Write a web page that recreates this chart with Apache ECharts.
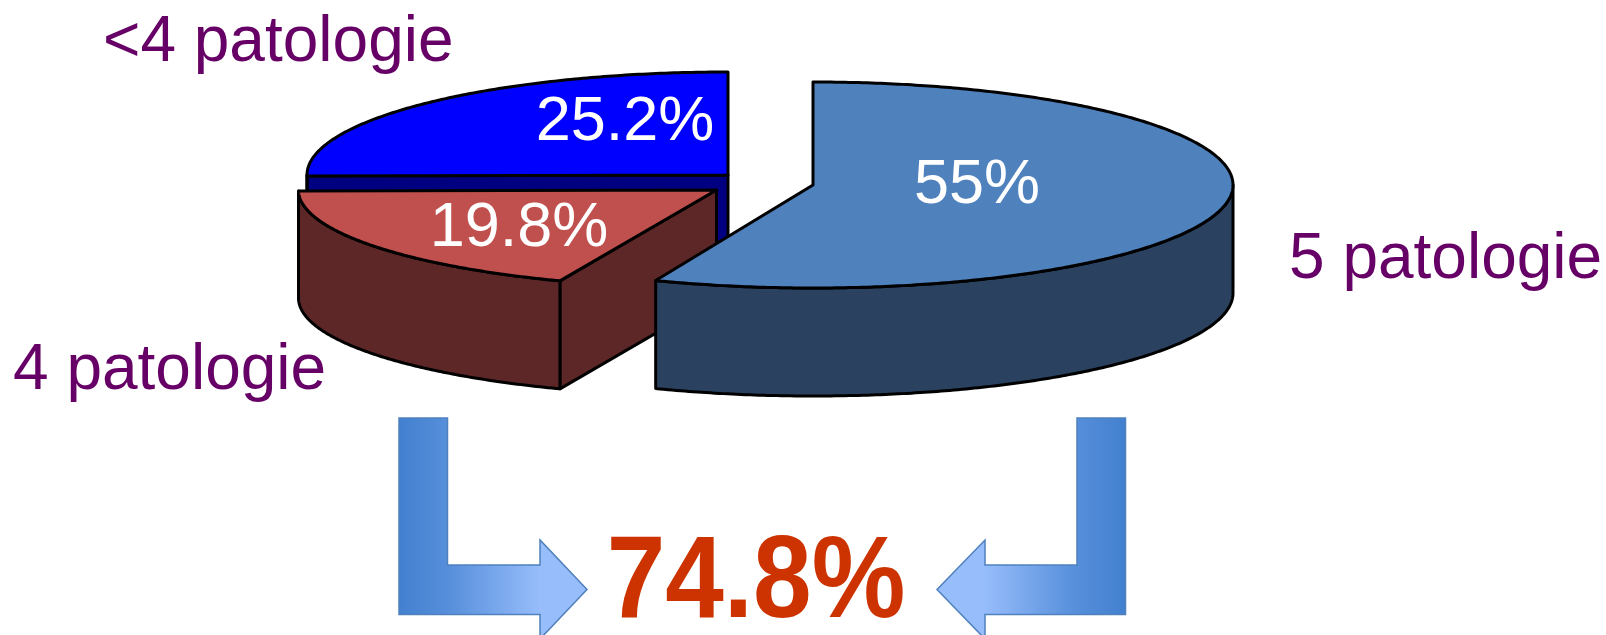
<!DOCTYPE html>
<html>
<head>
<meta charset="utf-8">
<style>html,body{margin:0;padding:0;background:#fff}#c{width:1606px;height:635px}</style>
<script src="https://cdn.jsdelivr.net/npm/echarts@6/dist/echarts.min.js"></script>
</head>
<body>
<div id="c"></div>
<script>
// Data (counter-clockwise from 12 o'clock)
const categories = ['<4 patologie', '4 patologie', '5 patologie'];
const values = [25.2, 19.8, 55];
const totalIndexes = [1, 2];

// Layout and style
const topColors = ['#0000ff', '#c0504d', '#4f81bd'];
const sideColors = ['#000080', '#5e2727', '#2a4260'];
const centers = [[728, 175], [716.5, 190], [813, 185]];
const radiiX = [421, 418, 420];
const radiiY = [103, 98, 103];
const depth = 108;
const perspectiveWarp = 6.8;
const valueLabelPos = [[625, 123], [519, 229], [977, 186]];
const nameLabelPos = [[103, 43], [13, 371], [1289, 260]];
const textFont = '"Liberation Sans", Arial, sans-serif';
const labelColor = '#660066';

const sum = values.reduce((a, b) => a + b, 0);
const warp = t => t + perspectiveWarp * Math.sin(2 * t * Math.PI / 180);
function point(i, t) {
  const r = warp(t) * Math.PI / 180;
  return [centers[i][0] - radiiX[i] * Math.sin(r), centers[i][1] - radiiY[i] * Math.cos(r)];
}
function arc(i, a, b) {
  const pts = [];
  const n = Math.max(2, Math.ceil(Math.abs(b - a) * 2));
  for (let k = 0; k <= n; k++) pts.push(point(i, a + (b - a) * k / n));
  return pts;
}
const edge = { stroke: '#000', lineWidth: 3, lineJoin: 'round' };
function poly(points, fill) {
  return { type: 'polygon', silent: true, shape: { points }, style: Object.assign({ fill }, edge) };
}
const drop = p => [p[0], p[1] + depth];

function renderSlice(params, api) {
  const i = params.dataIndex;
  const value = api.value(0);
  let before = 0;
  for (let k = 0; k < i; k++) before += values[k];
  const a = before / sum * 360;
  const b = (before + value) / sum * 360;
  const side = sideColors[i];
  const children = [];
  // Cut face: visible only when it looks toward the viewer
  if (b < 180) {
    const e = point(i, b);
    children.push(poly([centers[i], e, drop(e), drop(centers[i])], side));
  }
  // Outer wall on the front half of the ellipse
  const from = Math.max(a, 90), to = Math.min(b, 270);
  if (to > from) {
    const top = arc(i, from, to);
    children.push(poly(top.concat(top.map(drop).reverse()), side));
  }
  // Top face
  children.push(poly([centers[i]].concat(arc(i, a, b)), topColors[i]));
  children.push({
    type: 'text', silent: true,
    style: { x: valueLabelPos[i][0], y: valueLabelPos[i][1], text: value + '%', fill: '#fff',
      font: '63px ' + textFont, align: 'center', verticalAlign: 'middle' }
  });
  children.push({
    type: 'text', silent: true,
    style: { x: nameLabelPos[i][0], y: nameLabelPos[i][1], text: categories[i], fill: labelColor,
      font: '64px ' + textFont, align: 'left', verticalAlign: 'middle' }
  });
  return { type: 'group', children };
}

// Arrows: bar from the top, running into a head pointing at the total
const arrowGradient = (x, x2) => ({
  type: 'linear', x, y: 0, x2, y2: 0,
  colorStops: [
    { offset: 0, color: '#4280cf' },
    { offset: 0.27, color: '#578fdb' },
    { offset: 0.75, color: '#97bdfb' },
    { offset: 1, color: '#97bdfb' }
  ]
});
function arrowPoints(outer, inner, base, tip) {
  return [[outer, 418], [inner, 418], [inner, 565], [base, 565], [base, 540], [tip, 589.5],
          [base, 639], [base, 614.5], [outer, 614.5]];
}
const totalValue = totalIndexes.reduce((s, i) => s + values[i], 0).toFixed(1) + '%';

const chart = echarts.init(document.getElementById('c'), null, { renderer: 'canvas' });
chart.setOption({
  animation: false,
  backgroundColor: '#fff',
  tooltip: { show: false },
  series: [{
    type: 'custom',
    coordinateSystem: 'none',
    data: values.map(v => [v]),
    renderItem: renderSlice,
    silent: true
  }],
  graphic: [
    { type: 'polygon', silent: true, shape: { points: arrowPoints(399, 447.5, 540, 587) },
      style: { fill: arrowGradient(0, 1), stroke: '#4f81bd', lineWidth: 1.5 } },
    { type: 'polygon', silent: true, shape: { points: arrowPoints(1125.5, 1077, 985, 937) },
      style: { fill: arrowGradient(1, 0), stroke: '#4f81bd', lineWidth: 1.5 } },
    { type: 'text', silent: true, x: 756, y: 585, scaleX: 0.9, scaleY: 1,
      style: { x: 0, y: 0, text: totalValue, fill: '#cc3300',
        font: 'bold 117px ' + textFont, align: 'center', verticalAlign: 'middle' } }
  ]
});
</script>
</body>
</html>
